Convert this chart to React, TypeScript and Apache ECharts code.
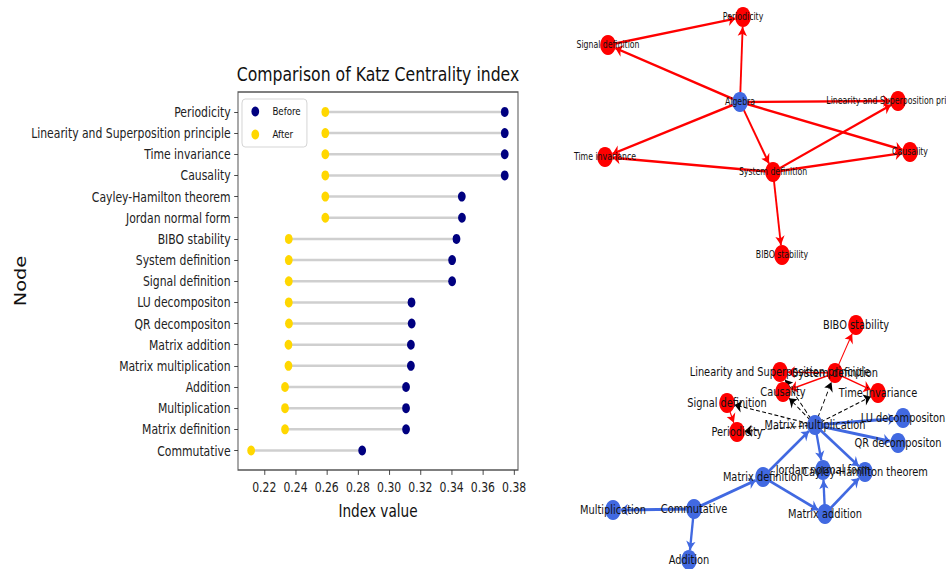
import React, { useEffect, useRef } from "react";
import * as echarts from "echarts";

// ---------- Dumbbell chart data ----------
const categories = [
  "Periodicity",
  "Linearity and Superposition principle",
  "Time invariance",
  "Causality",
  "Cayley-Hamilton theorem",
  "Jordan normal form",
  "BIBO stability",
  "System definition",
  "Signal definition",
  "LU decompositon",
  "QR decompositon",
  "Matrix addition",
  "Matrix multiplication",
  "Addition",
  "Multiplication",
  "Matrix definition",
  "Commutative",
];
const beforeValues = [
  0.374, 0.374, 0.374, 0.374, 0.3465, 0.3466, 0.3431, 0.3403, 0.3403, 0.3143,
  0.3144, 0.3139, 0.3139, 0.3108, 0.3108, 0.3108, 0.2827,
];
const afterValues = [
  0.2591, 0.2591, 0.2591, 0.2591, 0.2591, 0.2591, 0.2357, 0.2357, 0.2357, 0.2357,
  0.2358, 0.2355, 0.2355, 0.2333, 0.2333, 0.2333, 0.2116,
];
const xTicks = [0.22, 0.24, 0.26, 0.28, 0.3, 0.32, 0.34, 0.36, 0.38];

// ---------- Network graphs (layout coordinates) ----------
type GNode = { name: string; x: number; y: number; group: "red" | "blue" };
type GLink = { source: string; target: string; kind: string };

const topNodes: GNode[] = [
  { name: "Periodicity", x: 183, y: 17, group: "red" },
  { name: "Signal definition", x: 48, y: 45, group: "red" },
  { name: "Algebra", x: 180, y: 102, group: "blue" },
  { name: "Linearity and Superposition principle", x: 338, y: 101, group: "red" },
  { name: "Causality", x: 350, y: 152, group: "red" },
  { name: "Time invariance", x: 45, y: 157, group: "red" },
  { name: "System definition", x: 213, y: 172, group: "red" },
  { name: "BIBO stability", x: 222, y: 255, group: "red" },
];
const topLinks: GLink[] = [
  { source: "Algebra", target: "Periodicity", kind: "red" },
  { source: "Signal definition", target: "Periodicity", kind: "red" },
  { source: "Algebra", target: "Signal definition", kind: "red" },
  { source: "Algebra", target: "Linearity and Superposition principle", kind: "red" },
  { source: "Algebra", target: "Causality", kind: "red" },
  { source: "Algebra", target: "Time invariance", kind: "red" },
  { source: "Algebra", target: "System definition", kind: "red" },
  { source: "System definition", target: "Time invariance", kind: "red" },
  { source: "System definition", target: "Causality", kind: "red" },
  { source: "System definition", target: "Linearity and Superposition principle", kind: "red" },
  { source: "System definition", target: "BIBO stability", kind: "red" },
];

const bottomNodes: GNode[] = [
  { name: "BIBO stability", x: 296, y: 25, group: "red" },
  { name: "Linearity and Superposition principle", x: 220, y: 72, group: "red" },
  { name: "System definition", x: 275, y: 73, group: "red" },
  { name: "Causality", x: 223, y: 92, group: "red" },
  { name: "Time invariance", x: 318, y: 93, group: "red" },
  { name: "Signal definition", x: 167, y: 103, group: "red" },
  { name: "Periodicity", x: 177, y: 132, group: "red" },
  { name: "Matrix multiplication", x: 255, y: 125, group: "blue" },
  { name: "LU decompositon", x: 343, y: 118, group: "blue" },
  { name: "QR decompositon", x: 338, y: 143, group: "blue" },
  { name: "Jordan normal form", x: 263, y: 170, group: "blue" },
  { name: "Cayley-Hamilton theorem", x: 305, y: 172, group: "blue" },
  { name: "Matrix definition", x: 203, y: 177, group: "blue" },
  { name: "Matrix addition", x: 265, y: 214, group: "blue" },
  { name: "Multiplication", x: 53, y: 210, group: "blue" },
  { name: "Commutative", x: 134, y: 209, group: "blue" },
  { name: "Addition", x: 129, y: 260, group: "blue" },
];
const bottomLinks: GLink[] = [
  { source: "System definition", target: "BIBO stability", kind: "red" },
  { source: "System definition", target: "Linearity and Superposition principle", kind: "red" },
  { source: "System definition", target: "Causality", kind: "red" },
  { source: "System definition", target: "Time invariance", kind: "red" },
  { source: "Signal definition", target: "Periodicity", kind: "red" },
  { source: "Matrix multiplication", target: "Signal definition", kind: "dash" },
  { source: "Matrix multiplication", target: "Periodicity", kind: "dash" },
  { source: "Matrix multiplication", target: "Causality", kind: "dash" },
  { source: "Matrix multiplication", target: "Linearity and Superposition principle", kind: "dash" },
  { source: "Matrix multiplication", target: "System definition", kind: "dash" },
  { source: "Matrix multiplication", target: "Time invariance", kind: "dash" },
  { source: "Matrix multiplication", target: "LU decompositon", kind: "blue" },
  { source: "Matrix multiplication", target: "QR decompositon", kind: "blue" },
  { source: "Matrix multiplication", target: "Jordan normal form", kind: "blue" },
  { source: "Matrix multiplication", target: "Cayley-Hamilton theorem", kind: "blue" },
  { source: "Matrix definition", target: "Matrix multiplication", kind: "blue" },
  { source: "Matrix definition", target: "Matrix addition", kind: "blue" },
  { source: "Matrix addition", target: "Jordan normal form", kind: "blue" },
  { source: "Matrix addition", target: "Cayley-Hamilton theorem", kind: "blue" },
  { source: "Commutative", target: "Matrix definition", kind: "blue" },
  { source: "Commutative", target: "Multiplication", kind: "blue" },
  { source: "Commutative", target: "Addition", kind: "blue" },
];

const NAVY = "#000080";
const GOLD = "#FFD700";
const RED = "#FF0000";
const BLUE = "#4169E1";
const FONT = "'DejaVu Sans', sans-serif";

// The reference image is horizontally compressed; render wider and squeeze.
const OUT_W = 946;
const OUT_H = 569;
const CHART_W = 1213;
const S = OUT_W / CHART_W;
const px = (v: number) => v / S; // final-image x pixels -> chart pixels

function linkStyle(kind: string, topGraph: boolean) {
  if (kind === "red") return { color: RED, width: topGraph ? 2.4 : 1.4, type: "solid", opacity: 1 };
  if (kind === "dash") return { color: "#000", width: 1.1, type: [5, 3], opacity: 1 };
  return { color: BLUE, width: 3, type: "solid", opacity: 1 };
}

function graphSeries(nodes: GNode[], links: GLink[], idx: number, topGraph: boolean) {
  return {
    type: "graph",
    coordinateSystem: "cartesian2d",
    xAxisIndex: idx,
    yAxisIndex: idx,
    symbol: "circle",
    symbolSize: 20,
    edgeSymbol: ["none", "arrow"],
    edgeSymbolSize: [0, 9],
    label: {
      show: true,
      position: "inside",
      fontSize: topGraph ? 10 : 12.6,
      fontFamily: FONT,
      color: "#111",
    },
    emphasis: { disabled: true },
    data: nodes.map((n) => ({
      name: n.name,
      value: [n.x, n.y],
      itemStyle: { color: n.group === "red" ? RED : BLUE },
    })),
    links: links.map((l) => ({
      source: l.source,
      target: l.target,
      lineStyle: linkStyle(l.kind, topGraph),
    })),
    z: 3,
  };
}

export default function App() {
  const ref = useRef<HTMLDivElement>(null);
  useEffect(() => {
    if (!ref.current) return;
    const chart = echarts.init(ref.current, undefined, { renderer: "svg" });
    const ticksY = categories.map((_, i) => i);
    const option: any = {
      animation: false,
      backgroundColor: "#fff",
      title: {
        text: "Comparison of Katz Centrality index",
        left: px(378),
        top: 64,
        padding: 0,
        textAlign: "center",
        textStyle: { fontFamily: FONT, fontSize: 20.1, fontWeight: "normal", color: "#111" },
      },
      legend: {
        orient: "vertical",
        left: px(242),
        top: 99,
        padding: [7, 8, 7, 12],
        itemWidth: 10,
        itemHeight: 10,
        itemGap: 12,
        borderColor: "#d0d0d0",
        borderWidth: 1,
        borderRadius: 4,
        backgroundColor: "#fff",
        textStyle: { fontFamily: FONT, fontSize: 11.1, color: "#111", padding: [0, 0, 0, 12] },
        data: [
          { name: "Before", icon: "circle" },
          { name: "After", icon: "circle" },
        ],
      },
      grid: [
        { left: px(238), top: 92, width: px(280), height: 378, show: true, borderColor: "#555", borderWidth: 1.3, backgroundColor: "transparent" },
        { left: px(560), top: 0, width: px(386), height: 280, show: false },
        { left: px(560), top: 300, width: px(386), height: 269, show: false },
      ],
      xAxis: [
        {
          gridIndex: 0,
          type: "value",
          position: "bottom",
          min: 0.2032,
          max: 0.3825,
          axisLine: { show: false, onZero: false },
          splitLine: { show: false },
          axisTick: { show: true, length: 4.9, lineStyle: { color: "#333" }, customValues: xTicks },
          axisLabel: {
            customValues: xTicks,
            formatter: (v: number) => v.toFixed(2),
            fontFamily: FONT,
            fontSize: 13.9,
            color: "#222",
            margin: 9.5,
          },
          name: "Index value",
          nameLocation: "middle",
          nameGap: 32,
          nameTextStyle: { fontFamily: FONT, fontSize: 17.5, color: "#111" },
        },
        { gridIndex: 1, type: "value", min: 0, max: 386, show: false, axisLine: { onZero: false } },
        { gridIndex: 2, type: "value", min: 0, max: 386, show: false, axisLine: { onZero: false } },
      ],
      yAxis: [
        {
          gridIndex: 0,
          type: "value",
          position: "left",
          inverse: true,
          min: -0.94,
          max: 16.92,
          axisLine: { show: false, onZero: false },
          splitLine: { show: false },
          axisTick: { show: true, length: 4.9, lineStyle: { color: "#333" }, customValues: ticksY },
          axisLabel: {
            customValues: ticksY,
            formatter: (v: number) => categories[Math.round(v)] ?? "",
            fontFamily: FONT,
            fontSize: 13.9,
            color: "#222",
            margin: 9.5,
          },
          name: "Node",
          nameLocation: "middle",
          nameRotate: 90,
          nameGap: 264,
          nameTextStyle: { fontFamily: FONT, fontSize: 19.4, color: "#111" },
        },
        { gridIndex: 1, type: "value", min: 0, max: 280, inverse: true, show: false, axisLine: { onZero: false } },
        { gridIndex: 2, type: "value", min: 0, max: 269, inverse: true, show: false, axisLine: { onZero: false } },
      ],
      series: [
        {
          type: "custom",
          xAxisIndex: 0,
          yAxisIndex: 0,
          silent: true,
          z: 1,
          encode: { x: [0, 1], y: 2 },
          data: categories.map((_, i) => [afterValues[i], beforeValues[i], i]),
          renderItem: (params: any, api: any) => {
            const a = api.coord([api.value(0), api.value(2)]);
            const b = api.coord([api.value(1), api.value(2)]);
            return {
              type: "line",
              shape: { x1: a[0], y1: a[1], x2: b[0], y2: b[1] },
              style: { stroke: "#cfcfcf", lineWidth: 2.5 },
            };
          },
        },
        {
          name: "Before",
          type: "scatter",
          xAxisIndex: 0,
          yAxisIndex: 0,
          symbol: "circle",
          symbolSize: 10,
          itemStyle: { color: NAVY, opacity: 1 },
          z: 2,
          data: categories.map((_, i) => [beforeValues[i], i]),
        },
        {
          name: "After",
          type: "scatter",
          xAxisIndex: 0,
          yAxisIndex: 0,
          symbol: "circle",
          symbolSize: 10,
          itemStyle: { color: GOLD, opacity: 1 },
          z: 2,
          data: categories.map((_, i) => [afterValues[i], i]),
        },
        graphSeries(topNodes, topLinks, 1, true),
        graphSeries(bottomNodes, bottomLinks, 2, false),
      ],
    };
    chart.setOption(option);
    return () => chart.dispose();
  }, []);
  return (
    <div
      style={{
        position: "absolute",
        left: 0,
        top: 0,
        width: OUT_W,
        height: OUT_H,
        overflow: "hidden",
        background: "#fff",
      }}
    >
      <div
        ref={ref}
        style={{
          width: CHART_W,
          height: OUT_H,
          transform: `scaleX(${S})`,
          transformOrigin: "0 0",
        }}
      />
    </div>
  );
}
